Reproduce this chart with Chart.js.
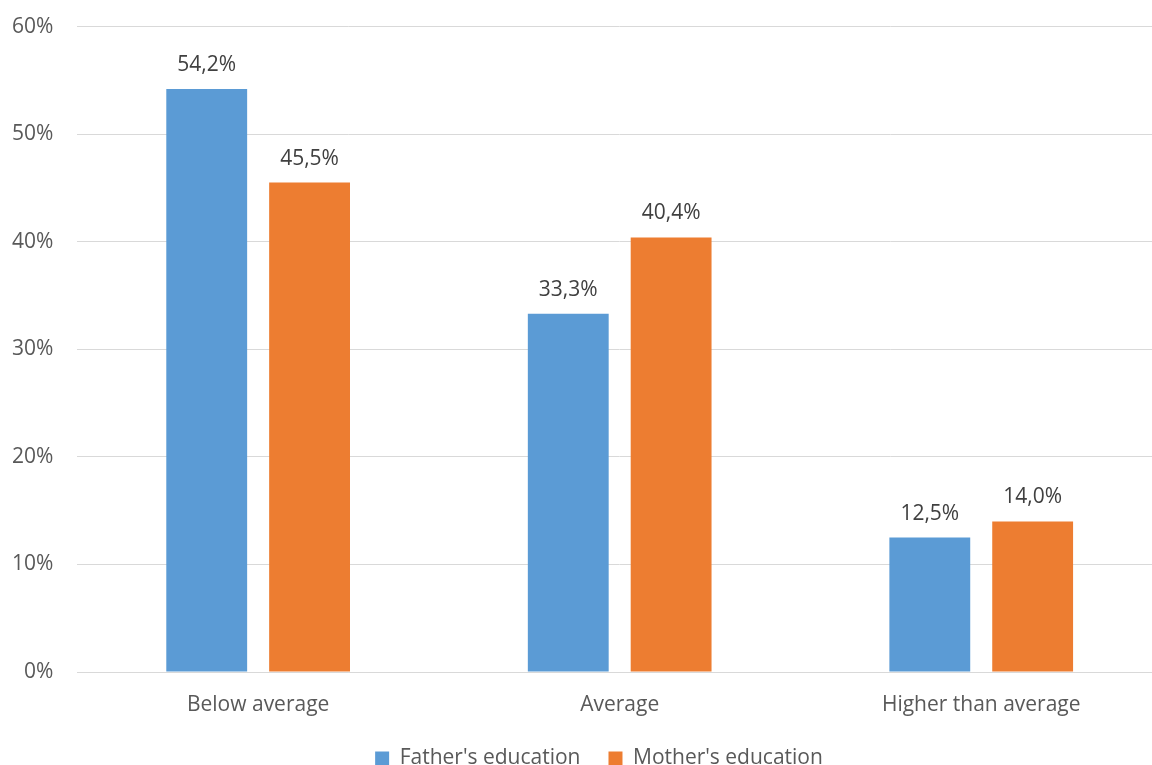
<!DOCTYPE html>
<html>
<head>
<meta charset="utf-8">
<script src="https://cdn.jsdelivr.net/npm/chart.js@4.4.1/dist/chart.umd.min.js"></script>
<style>
  html, body { margin: 0; padding: 0; background: #fff; overflow: hidden; }
  .wrap { width: 1210px; height: 789px; margin-top: -10px; }
</style>
</head>
<body>
<div class="wrap"><canvas id="edu-chart"></canvas></div>
<script>
const categories = ['Below average', 'Average', 'Higher than average'];
const fatherValues = [54.2, 33.3, 12.5];
const motherValues = [45.5, 40.4, 14.0];
const yMax = 60;
const yStep = 10;

const textColor = '#595959';
const fontFamily = '"Open Sans", sans-serif';

// numbers above each bar, with a decimal comma
const barLabels = {
    id: 'barLabels',
    afterDatasetsDraw(chart) {
        const ctx = chart.ctx;
        ctx.save();
        ctx.font = '21px ' + fontFamily;
        ctx.fillStyle = '#404040';
        ctx.textAlign = 'center';
        ctx.textBaseline = 'alphabetic';
        chart.data.datasets.forEach((ds, i) => {
            chart.getDatasetMeta(i).data.forEach((bar, j) => {
                const txt = ds.data[j].toFixed(1).replace('.', ',') + '%';
                ctx.fillText(txt, bar.x, bar.y - 18);
            });
        });
        ctx.restore();
    }
};

new Chart(document.getElementById('edu-chart'), {
    type: 'bar',
    data: {
        labels: categories,
        datasets: [{
            label: "Father's education",
            data: fatherValues,
            backgroundColor: '#5B9BD5'
        }, {
            label: "Mother's education",
            data: motherValues,
            backgroundColor: '#ED7D31'
        }]
    },
    options: {
        responsive: true,
        maintainAspectRatio: false,
        animation: false,
        categoryPercentage: 0.569,
        barPercentage: 0.786,
        layout: {
            padding: { left: -12, right: 0, top: 7, bottom: 0 }
        },
        scales: {
            x: {
                afterFit(scale) { scale.height = 48; },
                grid: { display: false },
                border: { display: true, color: '#d9d9d9' },
                ticks: {
                    color: textColor,
                    font: { family: fontFamily, size: 21 },
                    padding: 12
                }
            },
            y: {
                min: 0,
                max: yMax,
                grid: { color: '#d9d9d9', drawTicks: false },
                border: { display: false },
                ticks: {
                    stepSize: yStep,
                    color: textColor,
                    font: { family: fontFamily, size: 21 },
                    padding: 24,
                    callback: (value) => value + '%'
                }
            },
            // empty spacer on the right so the legend sits a little left of the plot centre
            spacer: {
                type: 'linear',
                position: 'right',
                afterFit(scale) { scale.width = 48; },
                grid: { display: false },
                border: { display: false },
                ticks: { display: false }
            }
        },
        plugins: {
            legend: {
                position: 'bottom',
                labels: {
                    color: textColor,
                    font: { family: fontFamily, size: 21 },
                    boxWidth: 14,
                    boxHeight: 14,
                    padding: 28
                }
            },
            tooltip: { enabled: false }
        }
    },
    plugins: [barLabels]
});
</script>
</body>
</html>
